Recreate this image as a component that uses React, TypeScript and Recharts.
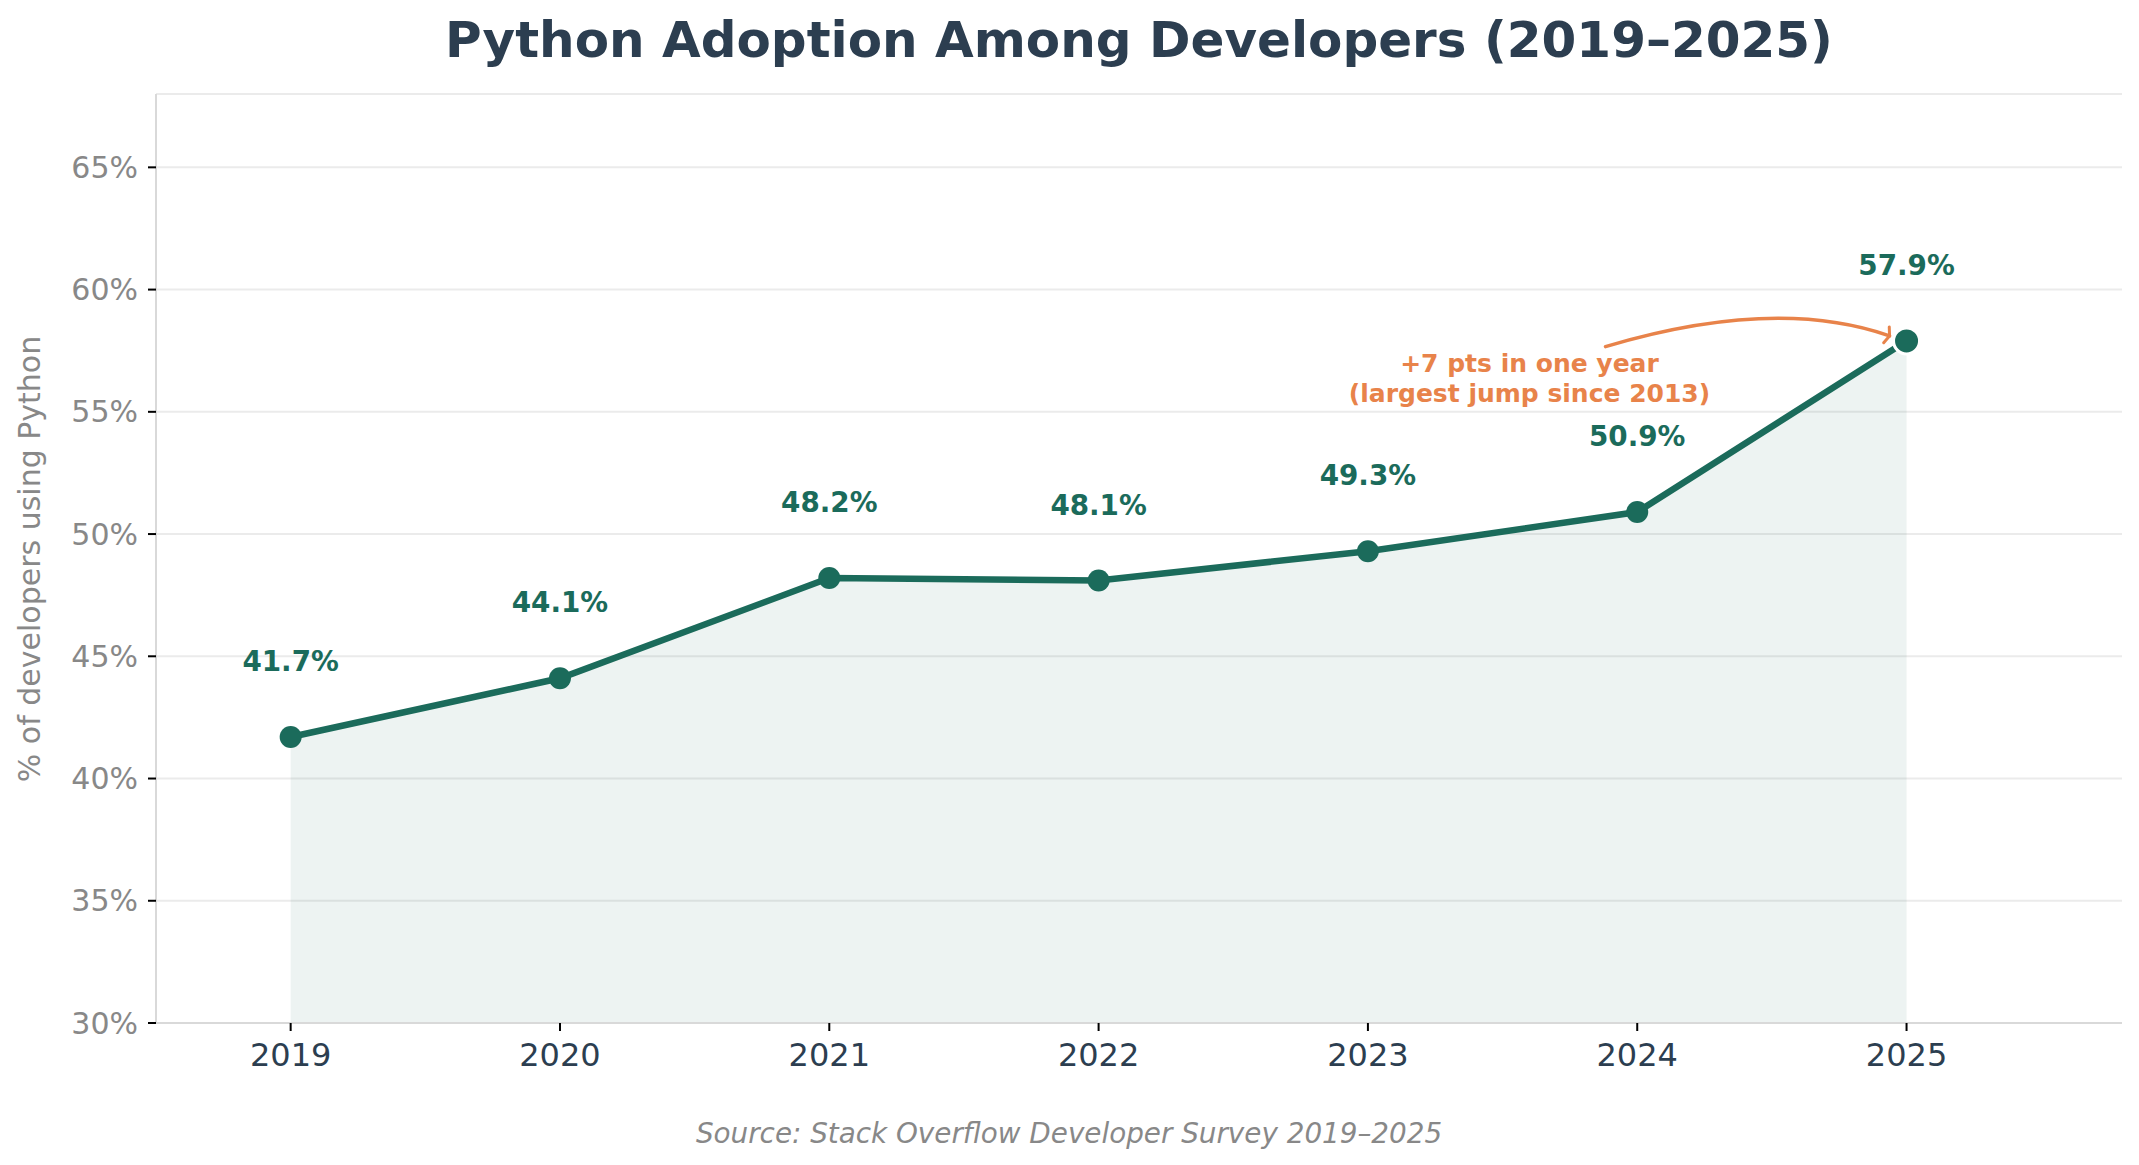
import React from 'react';
import {
  ComposedChart,
  Area,
  Line,
  XAxis,
  YAxis,
  CartesianGrid,
  ReferenceLine,
} from 'recharts';

// Stack Overflow survey share of developers using Python
const years = [2019, 2020, 2021, 2022, 2023, 2024, 2025];
const pythonShare = [41.7, 44.1, 48.2, 48.1, 49.3, 50.9, 57.9];
const yTicks = [30, 35, 40, 45, 50, 55, 60, 65];
const noteLines = ['+7 pts in one year', '(largest jump since 2013)'];
const noteAt = { year: 2023.6, pct: 56.4 };

const TEAL = '#1b6b5b';
const ORANGE = '#e8834a';
const INK = '#2c3e50';
const GREY = '#888888';

const W = 2139;
const H = 1165;
const Y_AXIS_W = 100;
const X_AXIS_H = 60;

const rows = years.map((year, i) => ({ year, pct: pythonShare[i] }));

const PointDot = (props: any) => {
  const { cx, cy, index } = props;
  const last = index === years.length - 1;
  return (
    <g key={`pt-${index}`}>
      <circle
        cx={cx}
        cy={cy}
        r={last ? 13 : 11}
        fill={TEAL}
        stroke={last ? '#fff' : 'none'}
        strokeWidth={last ? 3 : 0}
      />
      <text
        x={cx}
        y={cy - 66}
        textAnchor="middle"
        fill={TEAL}
        fontSize={27.8}
        fontWeight="bold"
      >
        {`${pythonShare[index].toFixed(1)}%`}
      </text>
    </g>
  );
};

// annotation: text anchored at noteAt, curved arrow to the 2025 point
const ArrowNote = (props: any) => {
  const { x1, y1, x2, y2 } = props;
  const sx = x1 + 76;
  const sy = y1 - 31;
  const ex = x2 - 17;
  const ey = y2 - 5;
  const cx = sx + (ex - sx) * 0.6;
  const cy = Math.min(sy, ey) - 40;
  const ang = Math.atan2(ey - cy, ex - cx);
  const hl = 9;
  const spread = 1.2;
  const h1x = ex - hl * Math.cos(ang - spread);
  const h1y = ey - hl * Math.sin(ang - spread);
  const h2x = ex - hl * Math.cos(ang + spread);
  const h2y = ey - hl * Math.sin(ang + spread);
  return (
    <g>
      <path
        d={`M${sx},${sy} Q${cx},${cy} ${ex},${ey}`}
        fill="none"
        stroke={ORANGE}
        strokeWidth={3.5}
        strokeLinecap="round"
      />
      <path
        d={`M${h1x},${h1y} L${ex},${ey} L${h2x},${h2y}`}
        fill="none"
        stroke={ORANGE}
        strokeWidth={3}
        strokeLinecap="round"
      />
      {noteLines.map((t, i) => (
        <text
          key={t}
          x={x1}
          y={y1 - 6 + i * 30}
          textAnchor="middle"
          fill={ORANGE}
          fontSize={25}
          fontWeight="bold"
        >
          {t}
        </text>
      ))}
    </g>
  );
};

export default function App() {
  const last = years.length - 1;
  return (
    <div
      style={{
        position: 'absolute',
        left: 0,
        top: 0,
        width: W,
        height: H,
        background: '#fff',
        fontFamily: '"DejaVu Sans", sans-serif',
      }}
    >
      <ComposedChart
        width={W}
        height={H}
        data={rows}
        margin={{ top: 94, right: 17, bottom: 142 - X_AXIS_H, left: 156 - Y_AXIS_W }}
      >
        <CartesianGrid vertical={false} stroke="#ebebeb" strokeWidth={2} />
        <XAxis
          dataKey="year"
          type="number"
          domain={[2018.5, 2025.8]}
          ticks={years}
          allowDataOverflow
          height={X_AXIS_H}
          axisLine={{ stroke: '#d9d9d9', strokeWidth: 2 }}
          tickLine={{ stroke: '#000', strokeWidth: 2 }}
          tickSize={8}
          tickMargin={12}
          tick={{ fill: INK, fontSize: 32 }}
        />
        <YAxis
          type="number"
          domain={[30, 68]}
          ticks={yTicks}
          allowDataOverflow
          width={Y_AXIS_W}
          tickFormatter={(v: number) => `${v}%`}
          axisLine={{ stroke: '#d9d9d9', strokeWidth: 2 }}
          tickLine={{ stroke: '#000', strokeWidth: 2 }}
          tickSize={8}
          tickMargin={10}
          tick={{ fill: GREY, fontSize: 30 }}
        />
        <Area
          type="linear"
          dataKey="pct"
          stroke="none"
          fill={TEAL}
          fillOpacity={0.08}
          isAnimationActive={false}
        />
        <Line
          type="linear"
          dataKey="pct"
          stroke={TEAL}
          strokeWidth={6.5}
          dot={PointDot}
          activeDot={false}
          isAnimationActive={false}
        />
        <ReferenceLine
          segment={[
            { x: noteAt.year, y: noteAt.pct },
            { x: years[last], y: pythonShare[last] },
          ]}
          shape={ArrowNote}
        />
      </ComposedChart>
      <svg
        width={W}
        height={H}
        style={{ position: 'absolute', left: 0, top: 0, pointerEvents: 'none' }}
      >
        <text x={1139} y={57} textAnchor="middle" fill={INK} fontSize={50} fontWeight="bold">
          Python Adoption Among Developers (2019–2025)
        </text>
        <text
          transform="translate(40,559) rotate(-90)"
          textAnchor="middle"
          fill={GREY}
          fontSize={30}
        >
          % of developers using Python
        </text>
        <text x={1069} y={1143} textAnchor="middle" fill={GREY} fontSize={27.8} fontStyle="italic">
          Source: Stack Overflow Developer Survey 2019–2025
        </text>
      </svg>
    </div>
  );
}
